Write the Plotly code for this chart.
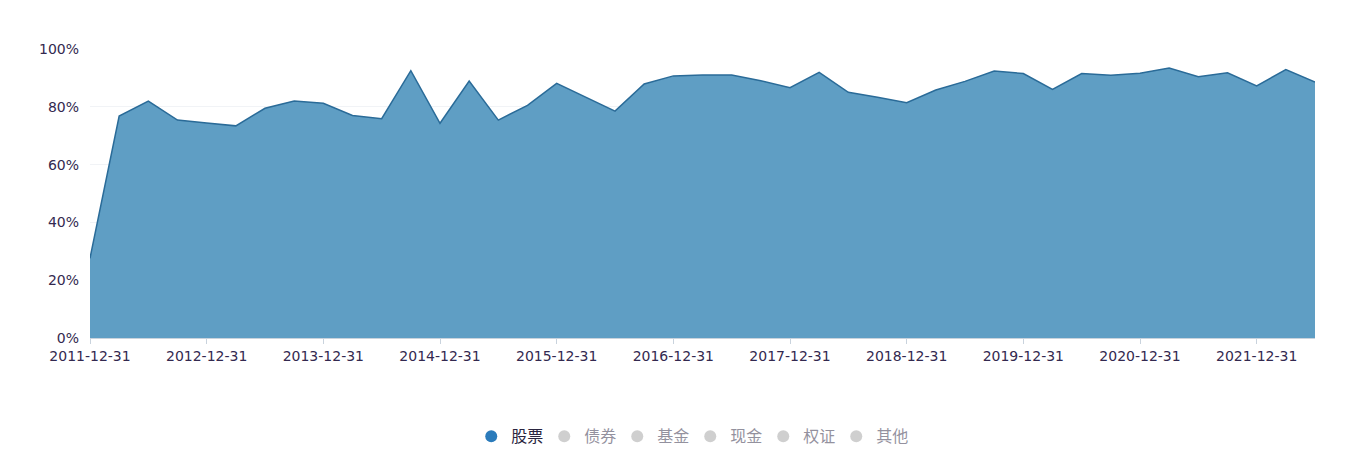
import plotly.graph_objects as go

# 季度末日期 (2011-12-31 ~ 2022-06-30)
dates = [
    "2011-12-31", "2012-03-31", "2012-06-30", "2012-09-30", "2012-12-31",
    "2013-03-31", "2013-06-30", "2013-09-30", "2013-12-31",
    "2014-03-31", "2014-06-30", "2014-09-30", "2014-12-31",
    "2015-03-31", "2015-06-30", "2015-09-30", "2015-12-31",
    "2016-03-31", "2016-06-30", "2016-09-30", "2016-12-31",
    "2017-03-31", "2017-06-30", "2017-09-30", "2017-12-31",
    "2018-03-31", "2018-06-30", "2018-09-30", "2018-12-31",
    "2019-03-31", "2019-06-30", "2019-09-30", "2019-12-31",
    "2020-03-31", "2020-06-30", "2020-09-30", "2020-12-31",
    "2021-03-31", "2021-06-30", "2021-09-30", "2021-12-31",
    "2022-03-31", "2022-06-30",
]

# 股票仓位占比 (%)
stock_pct = [
    27.6, 76.8, 82.0, 75.4, 74.4,
    73.4, 79.5, 82.0, 81.2,
    77.0, 75.9, 92.5, 74.3,
    88.9, 75.4, 80.5, 88.1,
    83.4, 78.5, 87.9, 90.7,
    91.0, 91.0, 89.0, 86.6,
    91.9, 85.0, 83.3, 81.4,
    85.8, 88.8, 92.4, 91.5,
    86.0, 91.5, 90.9, 91.6,
    93.4, 90.4, 91.8, 87.2,
    92.9, 88.6,
]

other_names = ["债券", "基金", "现金", "权证", "其他"]
tick_dates = dates[::4]
y_ticks = [0, 20, 40, 60, 80, 100]
y_labels = [f"{v}%" for v in y_ticks]

fig = go.Figure()

fig.add_trace(go.Scatter(
    x=dates,
    y=stock_pct,
    mode="lines",
    fill="tozeroy",
    fillcolor="#5f9ec4",
    line=dict(color="#2a6b98", width=1.5),
    showlegend=False,
    name="股票",
))

# legend entries (circles)
fig.add_trace(go.Scatter(
    x=[dates[0]], y=[None], mode="markers", name="股票",
    marker=dict(symbol="circle", size=12, color="#2b7bbb"),
))
for nm in other_names:
    fig.add_trace(go.Scatter(
        x=[dates[0]], y=[None], mode="markers", name=nm,
        marker=dict(symbol="circle", size=12, color="#a0a0a0"),
        visible="legendonly",
    ))

fig.update_layout(
    width=1348,
    height=472,
    margin=dict(l=82, r=41, t=41, b=142),
    paper_bgcolor="white",
    plot_bgcolor="white",
    font=dict(family="DejaVu Sans, sans-serif", color="#33294f"),
    xaxis=dict(
        type="category",
        range=[0, len(dates) - 1],
        tickvals=tick_dates,
        ticktext=tick_dates,
        showgrid=False,
        showline=True,
        linecolor="#c9d3dd",
        ticks="outside",
        ticklen=5,
        tickcolor="#c9d3dd",
        tickfont=dict(size=14, color="#33294f"),
        zeroline=False,
    ),
    yaxis=dict(
        range=[0, 100],
        tickvals=y_ticks,
        ticktext=y_labels,
        showgrid=True,
        gridcolor="#f1f3f6",
        tickfont=dict(size=14, color="#33294f"),
        zeroline=False,
        ticks="",
        ticklabelstandoff=10,
    ),
    legend=dict(
        orientation="h",
        x=0.49,
        xanchor="center",
        y=-0.34,
        yanchor="middle",
        font=dict(family="Noto Sans CJK SC, sans-serif", size=16, color="#2a2540"),
        entrywidth=28,
        itemwidth=30,
    ),
)

fig.write_html("out.html")
